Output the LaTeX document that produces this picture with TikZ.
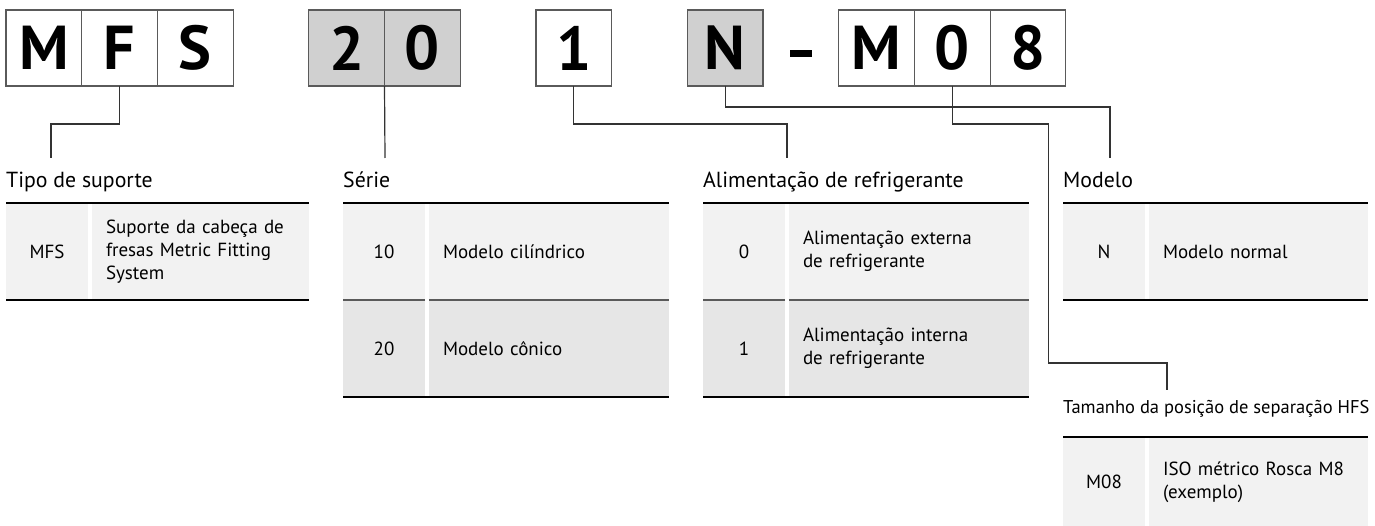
\documentclass[tikz,border=0pt]{standalone}
\usepackage{fontspec}
\setmainfont{PT Sans}
\usepackage{tikz}
\usetikzlibrary{positioning}
\usepackage{xcolor}
\definecolor{boxfill}{HTML}{D0D0D0}
\definecolor{rowa}{HTML}{F2F2F2}
\definecolor{rowb}{HTML}{E6E6E6}
\definecolor{boxline}{HTML}{5A5A5A}
\definecolor{linecol}{HTML}{333333}
\newcommand{\bigfont}{\fontsize{62}{62}\selectfont\bfseries}
\newcommand{\ttlfont}{\fontsize{21.8}{25}\selectfont}
\newcommand{\smallttlfont}{\fontsize{18.5}{22}\selectfont}
\newcommand{\bodyfont}{\fontsize{19}{23}\selectfont}

\begin{document}
\begin{tikzpicture}[x=1pt, y=-1pt,
    cell/.style={draw=boxline, line width=1.2pt, minimum width=75.7pt, minimum height=76pt, inner sep=0pt, outer sep=0pt, font=\bigfont},
    shaded/.style={cell, fill=boxfill},
    link/.style={line width=1.2pt, draw=linecol},
    ttl/.style={anchor=base west, inner sep=0pt, font=\ttlfont},
    code/.style={fill=#1, minimum width=82pt, minimum height=97pt, inner sep=0pt, outer sep=0pt, font=\bodyfont},
    desc/.style={fill=rowa, minimum height=97pt, inner xsep=14pt, inner ysep=0pt, outer sep=0pt, align=left, font=\bodyfont, text width=#1},
    rule/.style={line width=2.5pt, black},
    sep/.style={line width=1.5pt, boxline}
  ]
    \useasboundingbox (0,0) rectangle (1375,526);

    % code boxes
    \node[cell, anchor=north west] (kM) at (6,10) {M};
    \node[cell, right=0pt of kM] (kF) {F};
    \node[cell, right=0pt of kF] (kS) {S};
    \node[shaded, right=75.7pt of kS] (k2) {2};
    \node[shaded, right=0pt of k2] (k0) {0};
    \node[cell, right=75.7pt of k0] (k1) {1};
    \node[shaded, right=75.7pt of k1] (kN) {N};
    \node[fill=black, minimum width=22pt, minimum height=7pt, inner sep=0pt] (dash) at (801,53.5) {};
    \node[cell, right=75.7pt of kN] (kM2) {M};
    \node[cell, right=0pt of kM2] (kZ) {0};
    \node[cell, right=0pt of kZ] (k8) {8};

    % connector ends
    \coordinate (e1) at (51,158);
    \coordinate (e2) at (385,158);
    \coordinate (e3) at (787,158);
    \coordinate (e4) at (1110,158);
    \coordinate (e5) at (1167,390);

    \draw[link] (kF.south) -- ++(0,38) -| (e1);
    \draw[link] (k2.south east) -- (e2);
    \draw[link] (k1.south) -- ++(0,38) -| (e3);
    \draw[link] (kN.south) -- ++(0,21) -| (e4);
    \draw[link] (kZ.south) -- ++(0,38) -- ++(96,0) -- ++(0,239) -| (e5);

    % titles
    \node[ttl] (t1) at (6,188) {Tipo de suporte};
    \node[ttl] (t2) at (343,188) {Série};
    \node[ttl] (t3) at (703,188) {Alimentação de refrigerante};
    \node[ttl] (t4) at (1063,188) {Modelo};
    \node[ttl, font=\smallttlfont] (t5) at (1063,413) {Tamanho da posição de separação HFS};

    % Tipo de suporte
    \node[code=rowa, anchor=north west] (cd1) at (6,203) {MFS};
    \node[desc=189pt, right=4pt of cd1] (tx1) {Suporte da cabeça de fresas Metric Fitting System};
    \draw[rule] (cd1.north west) -- (tx1.north east);
    \draw[rule] (cd1.south west) -- (tx1.south east);

    % Serie
    \node[code=rowa, anchor=north west] (cd2a) at (343,203) {10};
    \node[desc=212pt, right=4pt of cd2a] (tx2a) {Modelo cilíndrico};
    \node[code=rowb, below=0pt of cd2a] (cd2b) {20};
    \node[desc=212pt, fill=rowb, right=4pt of cd2b] (tx2b) {Modelo cônico};
    \draw[sep] (cd2a.south west) -- (cd2a.south east);
    \draw[sep] (tx2a.south west) -- (tx2a.south east);
    \draw[rule] (cd2a.north west) -- (tx2a.north east);
    \draw[rule] (cd2b.south west) -- (tx2b.south east);

    % Alimentacao
    \node[code=rowa, anchor=north west] (cd3a) at (703,203) {0};
    \node[desc=212pt, right=4pt of cd3a] (tx3a) {Alimentação externa\\de refrigerante};
    \node[code=rowb, below=0pt of cd3a] (cd3b) {1};
    \node[desc=212pt, fill=rowb, right=4pt of cd3b] (tx3b) {Alimentação interna\\de refrigerante};
    \draw[sep] (cd3a.south west) -- (cd3a.south east);
    \draw[sep] (tx3a.south west) -- (tx3a.south east);
    \draw[rule] (cd3a.north west) -- (tx3a.north east);
    \draw[rule] (cd3b.south west) -- (tx3b.south east);

    % Modelo
    \node[code=rowa, anchor=north west] (cd4) at (1063,203) {N};
    \node[desc=191pt, right=4pt of cd4] (tx4) {Modelo normal};
    \draw[rule] (cd4.north west) -- (tx4.north east);
    \draw[rule] (cd4.south west) -- (tx4.south east);

    % Tamanho
    \node[code=rowa, minimum height=90pt, anchor=north west] (cd5) at (1063,437) {M08};
    \node[desc=191pt, minimum height=90pt, right=4pt of cd5] (tx5) {ISO métrico Rosca M8\\(exemplo)};
    \draw[rule] (cd5.north west) -- (tx5.north east);
  \end{tikzpicture}
\end{document}
